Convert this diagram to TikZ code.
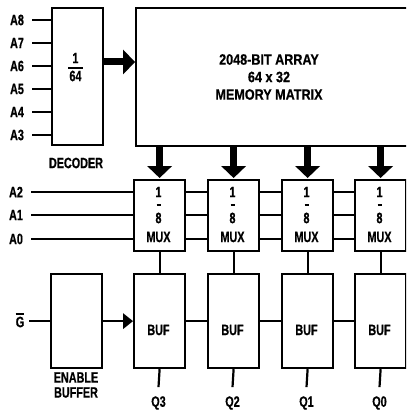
\documentclass[tikz,border=0pt]{standalone}
\usepackage{fontspec}
\setmainfont{Liberation Sans}[FakeStretch=0.72,FakeBold=0.6]
\newfontfamily\memfont{Liberation Sans}[FakeStretch=0.84,FakeBold=0.6]
\usetikzlibrary{arrows.meta}
\begin{document}
\begin{tikzpicture}[x=1pt,y=-1pt,
  box/.style={draw, line width=2.2pt, inner sep=0pt, minimum width=51pt, anchor=north west},
  lbl/.style={font=\bfseries\fontsize{15}{17}\selectfont, inner sep=0pt},
  wire/.style={line width=2.2pt},
  bigarrow/.style={line width=7pt, -{Triangle[width=25pt,length=12pt,line width=0pt]}},
  smallarrow/.style={line width=2.2pt, -{Triangle[width=16pt,length=10pt,line width=0pt]}}]
\useasboundingbox (0,0) rectangle (406,414);
\clip (0,0) rectangle (406,414);
% decoder
\node[box, minimum height=137pt] (dec) at (51,7) {};
\node[lbl] (one) at (75.5,58) {1};
\draw[line width=1.4pt] (68,68) -- (83,68);
\node[lbl] (sixtyfour) at (75.5,76) {64};
\node[lbl] (declbl) at (76,163) {DECODER};
\foreach \n/\y in {8/20,7/43,6/66,5/89,4/112,3/135}{
  \node[lbl] (a\n) at (17,\y) {A\n};
  \draw[wire] ([xshift=8pt]a\n.east) -- (a\n -| dec.west);
}
% memory
\node[box, minimum width=330pt, minimum height=138pt] (mem) at (135,7) {};
\node[lbl, font=\memfont\bfseries\fontsize{15}{17.5}\selectfont, align=center] (memtxt) at (269,77) {2048-BIT ARRAY\\64 x 32\\MEMORY MATRIX};
\coordinate (arry) at (0,62);
\draw[bigarrow] (dec.east |- arry) -- (mem.west |- arry);
% mux and buf
\foreach \i/\x in {3/133,2/207,1/281,0/354}{
  \node[box, minimum height=71pt] (m\i) at (\x,179) {};
  \node[box, minimum height=94pt] (b\i) at (\x,273) {};
  \draw[bigarrow, shorten >=1pt] (m\i.north |- mem.south) -- (m\i.north);
  \node[lbl] (mone\i) at (\x+25.5,192) {1};
  \draw[line width=1.2pt] (\x+23.5,205) -- (\x+27.5,205);
  \node[lbl] (meight\i) at (\x+25.5,218) {8};
  \node[lbl] (mux\i) at (\x+25.5,237) {MUX};
  \node[lbl] (buf\i) at (\x+25.5,330) {BUF};
  \draw[wire] (m\i.south) -- (b\i.north);
  \node[lbl] (q\i) at (\x+25.5,403) {Q\i};
  \draw[wire] (b\i.south) -- ([yshift=9pt]q\i.north);
}
\foreach \n/\y in {2/192,1/215,0/239}{
  \node[lbl] (a\n) at (16,\y) {A\n};
  \draw[wire] ([xshift=8pt]a\n.east) -- (a\n -| m3.west);
  \draw[wire] (a\n -| m3.east) -- (a\n -| m2.west);
  \draw[wire] (a\n -| m2.east) -- (a\n -| m1.west);
  \draw[wire] (a\n -| m1.east) -- (a\n -| m0.west);
}
\draw[wire] (b3.east) -- (b2.west);
\draw[wire] (b2.east) -- (b1.west);
\draw[wire] (b1.east) -- (b0.west);
% enable buffer
\node[box, minimum height=94pt] (en) at (50,273) {};
\node[lbl] (g) at (20,322) {G};
\draw[line width=1.2pt] ([yshift=2.5pt]g.north west) -- ([yshift=2.5pt]g.north east);
\coordinate (gend) at ([xshift=5pt]g.east);
\draw[wire] (gend |- en.west) -- (en.west);
\draw[smallarrow] (en.east) -- (b3.west);
\node[lbl, align=center, font=\bfseries\fontsize{15}{15}\selectfont] (enlbl) at (76,385) {ENABLE\\BUFFER};
\end{tikzpicture}
\end{document}
